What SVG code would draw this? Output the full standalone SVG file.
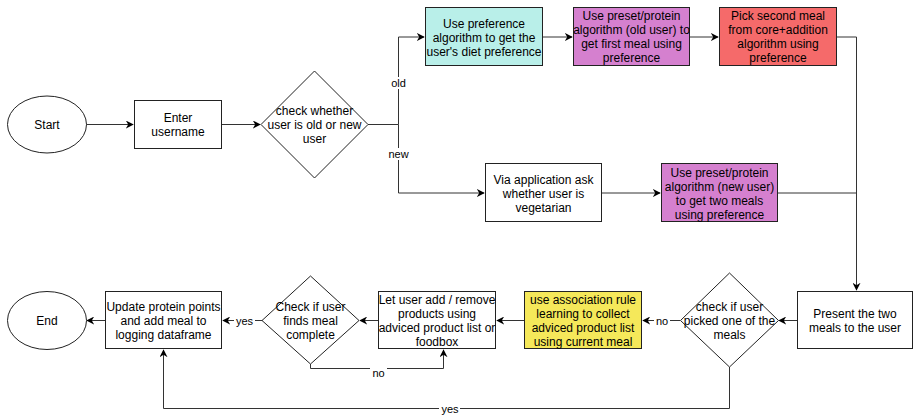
<svg xmlns="http://www.w3.org/2000/svg" width="915" height="417" viewBox="0 0 915 417">
<defs>
<marker id="ah" viewBox="0 0 10 10" refX="9" refY="5" markerWidth="8" markerHeight="8" markerUnits="userSpaceOnUse" orient="auto">
<path d="M0,0 L10,5 L0,10 L3,5 Z" fill="#000"/>
</marker>
<style>
.n{stroke:#222;stroke-width:1;fill:#fff}
.t{font-family:"Liberation Sans",Arial,sans-serif;font-size:12px;fill:#000;text-anchor:middle}
.l{font-family:"Liberation Sans",Arial,sans-serif;font-size:11px;fill:#000;text-anchor:middle}
.c{stroke:#333;stroke-width:1;fill:none}
.a{marker-end:url(#ah)}
.bg{fill:#fff}
</style>
</defs>
<rect width="915" height="417" fill="#fff"/>
<g id="connectors">
<path class="c a" d="M86,124.5 H133"/>
<path class="c a" d="M222,124.5 H260"/>
<path class="c" d="M368,124.5 H398.5"/>
<path class="c a" d="M398.5,124.5 V37 H424"/>
<path class="c a" d="M398.5,124.5 V193 H484"/>
<path class="c a" d="M543,37 H572"/>
<path class="c a" d="M690,37 H718"/>
<path class="c" d="M837,37 H856.5 V193"/>
<path class="c a" d="M602,193 H660"/>
<path class="c" d="M778,193 H856.5"/>
<path class="c a" d="M856.5,193 V290"/>
<path class="c a" d="M797,320.5 H779"/>
<path class="c a" d="M680,320.5 H643"/>
<path class="c a" d="M524,320.5 H497"/>
<path class="c a" d="M378,320.5 H360"/>
<path class="c a" d="M262,320.5 H223"/>
<path class="c a" d="M105,320.5 H87"/>
<path class="c a" d="M310.5,364 V368.5 H443.5 V350"/>
<path class="c a" d="M729.5,367 V408.5 H163.5 V350"/>
<rect class="bg" x="388" y="77" width="20" height="12"/>
<text class="l" x="398.5" y="87">old</text>
<rect class="bg" x="386" y="148" width="25" height="12"/>
<text class="l" x="398.5" y="158">new</text>
<rect class="bg" x="654" y="315" width="16" height="12"/>
<text class="l" x="662" y="324.5">no</text>
<rect class="bg" x="234" y="315" width="21" height="12"/>
<text class="l" x="244.5" y="324.5">yes</text>
<rect class="bg" x="370" y="367" width="17" height="12"/>
<text class="l" x="378.5" y="377">no</text>
<rect class="bg" x="439" y="403" width="21" height="12"/>
<text class="l" x="450" y="413">yes</text>
</g>
<g id="start">
<ellipse class="n" cx="47" cy="124.5" rx="39.5" ry="28.5"/>
<text class="t" x="47" y="129">Start</text>
</g>
<g id="enter-username">
<rect class="n" x="134.5" y="100.5" width="87" height="48"/>
<text class="t" x="178" y="122">Enter</text>
<text class="t" x="178" y="136">username</text>
</g>
<g id="check-old-new">
<path class="n" d="M314.5,71 L368,124.5 L314.5,178 L261,124.5 Z"/>
<text class="t" x="314.5" y="115">check whether</text>
<text class="t" x="314.5" y="129">user is old or new</text>
<text class="t" x="314.5" y="143">user</text>
</g>
<g id="preference">
<rect class="n" x="425.5" y="7.5" width="117" height="58" fill="#b9efe9" style="fill:#b9efe9"/>
<text class="t" x="484" y="28">Use preference</text>
<text class="t" x="484" y="42">algorithm to get the</text>
<text class="t" x="484" y="56">user's diet preference</text>
</g>
<g id="preset-old">
<rect class="n" x="573.5" y="7.5" width="116" height="58" style="fill:#d580cf"/>
<text class="t" x="631.5" y="20">Use preset/protein</text>
<text class="t" x="631.5" y="34">algorithm (old user) to</text>
<text class="t" x="631.5" y="48">get first meal using</text>
<text class="t" x="631.5" y="62">preference</text>
</g>
<g id="second-meal">
<rect class="n" x="719.5" y="7.5" width="117" height="58" style="fill:#f56a6a"/>
<text class="t" x="778" y="20">Pick second meal</text>
<text class="t" x="778" y="34">from core+addition</text>
<text class="t" x="778" y="48">algorithm using</text>
<text class="t" x="778" y="62">preference</text>
</g>
<g id="ask-vegetarian">
<rect class="n" x="485.5" y="163.5" width="116" height="58"/>
<text class="t" x="543.5" y="184">Via application ask</text>
<text class="t" x="543.5" y="198">whether user is</text>
<text class="t" x="543.5" y="212">vegetarian</text>
</g>
<g id="preset-new">
<rect class="n" x="661.5" y="163.5" width="116" height="58" style="fill:#d580cf"/>
<text class="t" x="719.5" y="177">Use preset/protein</text>
<text class="t" x="719.5" y="191">algorithm (new user)</text>
<text class="t" x="719.5" y="205">to get two meals</text>
<text class="t" x="719.5" y="219">using preference</text>
</g>
<g id="present">
<rect class="n" x="797.5" y="291.5" width="115" height="57"/>
<text class="t" x="855" y="318">Present the two</text>
<text class="t" x="855" y="332">meals to the user</text>
</g>
<g id="check-picked">
<path class="n" d="M729.5,273 L778.5,320.5 L729.5,367 L680.5,320.5 Z"/>
<text class="t" x="729.5" y="311">check if user</text>
<text class="t" x="729.5" y="325">picked one of the</text>
<text class="t" x="729.5" y="339">meals</text>
</g>
<g id="association">
<rect class="n" x="524.5" y="291.5" width="117" height="57" style="fill:#f5e85a"/>
<text class="t" x="583" y="304">use association rule</text>
<text class="t" x="583" y="318">learning to collect</text>
<text class="t" x="583" y="332">adviced product list</text>
<text class="t" x="583" y="346">using current meal</text>
</g>
<g id="let-user">
<rect class="n" x="378.5" y="291.5" width="117" height="57"/>
<text class="t" x="437" y="304">Let user add / remove</text>
<text class="t" x="437" y="318">products using</text>
<text class="t" x="437" y="332">adviced product list or</text>
<text class="t" x="437" y="346">foodbox</text>
</g>
<g id="check-complete">
<path class="n" d="M310.5,276 L359,320.5 L310.5,364 L262,320.5 Z"/>
<text class="t" x="310.5" y="311">Check if user</text>
<text class="t" x="310.5" y="325">finds meal</text>
<text class="t" x="310.5" y="339">complete</text>
</g>
<g id="update">
<rect class="n" x="105.5" y="291.5" width="116" height="57"/>
<text class="t" x="163.5" y="311">Update protein points</text>
<text class="t" x="163.5" y="325">and add meal to</text>
<text class="t" x="163.5" y="339">logging dataframe</text>
</g>
<g id="end">
<ellipse class="n" cx="47" cy="320.5" rx="39.5" ry="29"/>
<text class="t" x="47" y="325">End</text>
</g>
</svg>
